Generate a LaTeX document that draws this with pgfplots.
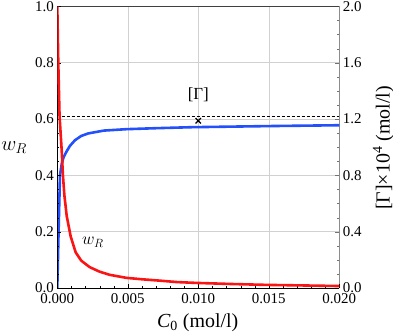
\documentclass[border=0pt]{standalone}
\usepackage{fontspec}
\setmainfont{Liberation Serif}
\usepackage{pgfplots}
\usepackage{pgfplotstable}
\pgfplotsset{compat=1.18}

\definecolor{wred}{RGB}{250,20,20}
\definecolor{gblue}{RGB}{35,80,250}

% w_R against C_0 (left axis)
\pgfplotstableread{
x w
0       1.000
0.00007 0.800
0.00016 0.610
0.00031 0.490
0.00040 0.400
0.00050 0.330
0.00067 0.255
0.00095 0.183
0.00130 0.127
0.00170 0.097
0.00230 0.074
0.00300 0.058
0.00370 0.047
0.00490 0.036
0.00600 0.031
0.00730 0.026
0.00850 0.021
0.00990 0.018
0.01250 0.014
0.01490 0.011
0.01750 0.009
0.02000 0.007
}\wRdata

% [Gamma] x 10^4 against C_0 (right axis)
\pgfplotstableread{
x G
0       0.000
0.00010 0.440
0.00019 0.800
0.00031 0.880
0.00045 0.930
0.00067 0.972
0.00090 1.010
0.00126 1.050
0.00170 1.080
0.00220 1.098
0.00330 1.118
0.00490 1.128
0.00700 1.135
0.00950 1.142
0.01500 1.150
0.02000 1.156
}\Gdata

\begin{document}
\begin{tikzpicture}
\pgfplotsset{
  every axis/.append style={
    scale only axis, width=282bp, height=281.6bp,
    xmin=0, xmax=0.02,
    clip mode=individual,
    scaled ticks=false,
    tick align=inside,
    major tick length=4bp, minor tick length=2bp,
    ticklabel style={font=\fontsize{15}{15}\selectfont},
    /pgf/number format/assume math mode=true,
    x axis line style={-}, y axis line style={-},
  },
}
% right axis: surface concentration
\begin{axis}[
  axis x line*=top, axis y line*=right,
  x axis line style={black!75, line width=0.6bp},
  y axis line style={black!45, line width=0.8bp},
  ymin=0, ymax=2,
  ytick={0,0.4,0.8,1.2,1.6,2.0},
  minor y tick num=3,
  y tick label style={/pgf/number format/fixed, /pgf/number format/fixed zerofill, /pgf/number format/precision=1},
  ytick style={black!55},
  xtick={0,0.005,0.01,0.015,0.02}, xticklabels={},
  xtick style={draw=none},
  grid=major,
  major grid style={black!18, line width=0.5bp},
]
\addplot[gblue, line width=2.6bp] table[x=x, y=G] {\Gdata};
\addplot[black, line width=1.4bp, dash pattern=on 3bp off 2bp]
  coordinates {(0.0003,1.216) (0.02,1.216)};
\addplot[black, only marks, mark=x, mark size=3.8bp, line width=1.2bp]
  coordinates {(0.01,1.188)};
\node[font=\fontsize{17}{17}\selectfont] at (axis cs:0.01,1.37) {[Γ]};
\node[rotate=90, font=\fontsize{20}{20}\selectfont]
  at (rel axis cs:1.156,0.497) {[Γ]×10\textsuperscript{4} (mol/l)};
\end{axis}
% left axis: w_R
\begin{axis}[
  axis x line*=bottom, axis y line*=left,
  x axis line style={black, line width=0.8bp},
  y axis line style={black, line width=0.8bp},
  ymin=0, ymax=1,
  ytick={0,0.2,0.4,0.6,0.8,1.0},
  minor y tick num=3,
  y tick label style={/pgf/number format/fixed, /pgf/number format/fixed zerofill, /pgf/number format/precision=1},
  xtick={0,0.005,0.01,0.015,0.02},
  minor x tick num=4,
  x tick label style={yshift=-2bp, /pgf/number format/fixed, /pgf/number format/fixed zerofill, /pgf/number format/precision=3},
  tick style={black},
]
\addplot[wred, line width=2.6bp] table[x=x, y=w] {\wRdata};
\node[font=\fontsize{17}{17}\selectfont] at (axis cs:0.00253,0.163) {$w_R$};
\node[font=\fontsize{22}{22}\selectfont] at (rel axis cs:-0.153,0.50) {$w_R$};
\node[font=\fontsize{20}{20}\selectfont] at (rel axis cs:0.498,-0.124)
  {\itshape C\textsubscript{\upshape 0}\upshape\ (mol/l)};
\end{axis}
\pgfresetboundingbox
\path (-57.3bp,-46bp) rectangle (335.7bp,288bp);
\end{tikzpicture}
\end{document}
